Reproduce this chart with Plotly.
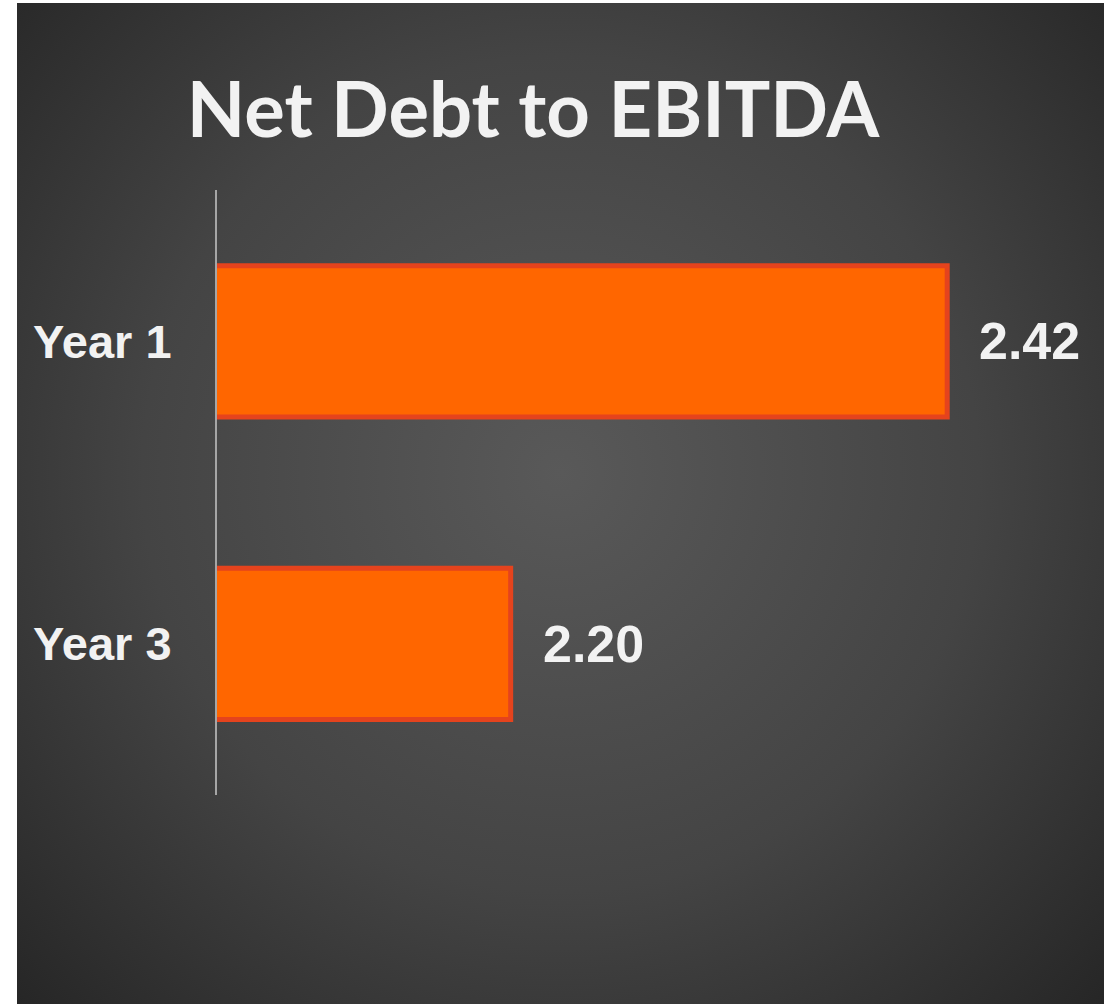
import base64
import plotly.graph_objects as go

# Chart data
categories = ["Year 1", "Year 3"]
ratios = [2.42, 2.20]
title_text = "Net Debt to EBITDA"

# Page geometry (pixels)
W, H = 1119, 1004
M_L, M_R, M_T, M_B = 217, 21, 190, 209
plot_w = W - M_L - M_R
plot_h = H - M_T - M_B

# Dark panel with a soft radial glow, drawn as an SVG background image
panel_x0, panel_x1 = 17, 1104
panel_y0, panel_y1 = 3, 1004
pw, ph = panel_x1 - panel_x0, panel_y1 - panel_y0
svg = f'''<svg xmlns="http://www.w3.org/2000/svg" width="{pw}" height="{ph}" viewBox="0 0 {pw} {ph}">
<defs><radialGradient id="g" gradientUnits="userSpaceOnUse" cx="{pw*0.50}" cy="{ph*0.47}" r="760">
<stop offset="0" stop-color="#595959"/><stop offset="0.55" stop-color="#444444"/><stop offset="1" stop-color="#262626"/>
</radialGradient></defs>
<rect width="{pw}" height="{ph}" fill="url(#g)"/></svg>'''
svg_uri = "data:image/svg+xml;base64," + base64.b64encode(svg.encode()).decode()

fig = go.Figure()
fig.add_trace(go.Bar(
    y=categories,
    x=ratios,
    base=0,
    orientation="h",
    marker=dict(color="#ff6600", line=dict(color="#e5431d", width=5)),
    width=0.5,
    hoverinfo="skip",
))

# Value labels to the right of each bar
for cat, val in zip(categories, ratios):
    fig.add_annotation(
        x=val, y=cat, xref="x", yref="y",
        text=f"<b>{val:.2f}</b>", showarrow=False,
        xanchor="left", yanchor="middle", xshift=30,
        font=dict(family="Liberation Sans, Arial", size=52, color="#f2f2f2"),
    )

fig.update_layout(
    width=W, height=H,
    margin=dict(l=M_L, r=M_R, t=M_T, b=M_B),
    paper_bgcolor="white",
    plot_bgcolor="rgba(0,0,0,0)",
    showlegend=False,
    title=dict(
        text=f"<b>{title_text}</b>",
        x=(533 - M_L) / plot_w, xref="paper", xanchor="center",
        y=1 - 110 / H, yanchor="middle",
        font=dict(family="Lato", size=76, color="#f2f2f2"),
    ),
    xaxis=dict(
        range=[2.052, 2.496], showgrid=False, zeroline=False,
        showticklabels=False, showline=False, ticks="",
    ),
    yaxis=dict(
        autorange="reversed", showgrid=False, zeroline=False,
        showline=True, linecolor="#a6a6a6", linewidth=2, ticks="",
        ticklabelstandoff=34,
        tickvals=categories,
        ticktext=[f"<b>{c}</b>" for c in categories],
        tickfont=dict(family="Liberation Sans, Arial", size=47, color="#f2f2f2"),
    ),
    bargap=0.48,
    images=[dict(
        source=svg_uri, xref="paper", yref="paper",
        x=(panel_x0 - M_L) / plot_w, y=(H - M_B - panel_y0) / plot_h,
        sizex=pw / plot_w, sizey=ph / plot_h,
        xanchor="left", yanchor="top", sizing="stretch", layer="below",
    )],
)

fig.write_html("out.html")
